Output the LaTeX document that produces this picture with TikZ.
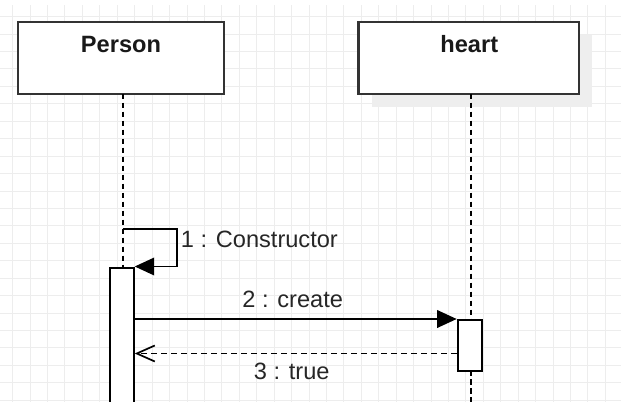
\documentclass[tikz,border=0pt]{standalone}
\usepackage{fontspec}
\setmainfont{Liberation Sans}
\usetikzlibrary{arrows.meta,calc}
\definecolor{gridc}{HTML}{EDEDED}
\definecolor{edgec}{HTML}{333333}
\definecolor{shadowc}{HTML}{EEEEEE}
\begin{document}
\begin{tikzpicture}[x=1pt,y=-1pt,
  lifebox/.style={draw=edgec,line width=2.2pt,fill=white,minimum height=72pt,inner sep=0pt,rectangle},
  boxtitle/.style={font=\fontsize{23.6}{28}\selectfont\bfseries,text=black!90,inner sep=0pt},
  msg/.style={font=\fontsize{23.6}{28}\selectfont,text=black!85,inner sep=0pt},
  lifeline/.style={draw=black,line width=2pt,dash pattern=on 5.5pt off 3.5pt},
  actbar/.style={draw=black,line width=2pt,fill=white,inner sep=0pt,rectangle},
  call/.style={draw=black,line width=1.9pt,-{Triangle[length=19.5pt,width=17.5pt]}},
  ret/.style={draw=black,line width=1.7pt,dash pattern=on 6pt off 4pt,-{Straight Barb[length=18pt,width=16pt,line width=1.7pt]}}
]
\useasboundingbox (0,0) rectangle (633,402);
\clip (0,0) rectangle (633,402);
% grid
\foreach \k in {0,...,34} {\draw[gridc,line width=1pt] ({12.7+17.43*\k},5) -- ({12.7+17.43*\k},402);}
\foreach \k in {0,...,22} {\draw[gridc,line width=1pt] (0,{16.7+17.43*\k}) -- (621,{16.7+17.43*\k});}
% heart shadow
\fill[shadowc] (371.5,35) rectangle (592.3,107);
% boxes
\node[lifebox,minimum width=206pt] (person) at (120.7,57.7) {};
\node[boxtitle] (persontitle) at (121,44) {Person};
\node[lifebox,minimum width=220.6pt] (heart) at (468.7,57.7) {};
\node[boxtitle] (hearttitle) at (469.3,44) {heart};
% lifeline coordinates
\coordinate (pTop) at (122.5,93.7);
\coordinate (pAct) at (122.5,266.7);
\coordinate (hTop) at (470.7,93.7);
\coordinate (hAct) at (470.7,319);
\coordinate (hActEnd) at (470.7,370.3);
\coordinate (hEnd) at (470.7,410);
\draw[lifeline] (pTop) -- (pAct);
\draw[lifeline] (hTop) -- (hAct);
\draw[lifeline] (hActEnd) -- (hEnd);
% activations
\node[actbar,minimum width=23.7pt,minimum height=160pt,anchor=north west] (actP) at (109,266.7) {};
\node[actbar,minimum width=24.3pt,minimum height=51.3pt,anchor=north west] (actH) at (456.7,319) {};
% self message
\coordinate (s0) at (122.5,229.3);
\coordinate (s1) at (177.3,229.3);
\coordinate (s2) at (177.3,266.5);
\draw[call] (s0) -- (s1) -- (s2) -- (actP.north east |- s2);
\node[msg,anchor=west] (m1) at (180.7,239.3) {1 : Constructor};
% create
\draw[call] (actP.east |- actH.north) -- (actH.north west);
\node[msg] (m2) at (292.7,299.3) {2 : create};
% return
\coordinate (r0) at (456.7,353.5);
\draw[ret] (r0) -- (actP.east |- r0);
\node[msg] (m3) at (291.7,371.7) {3 : true};
\end{tikzpicture}
\end{document}
